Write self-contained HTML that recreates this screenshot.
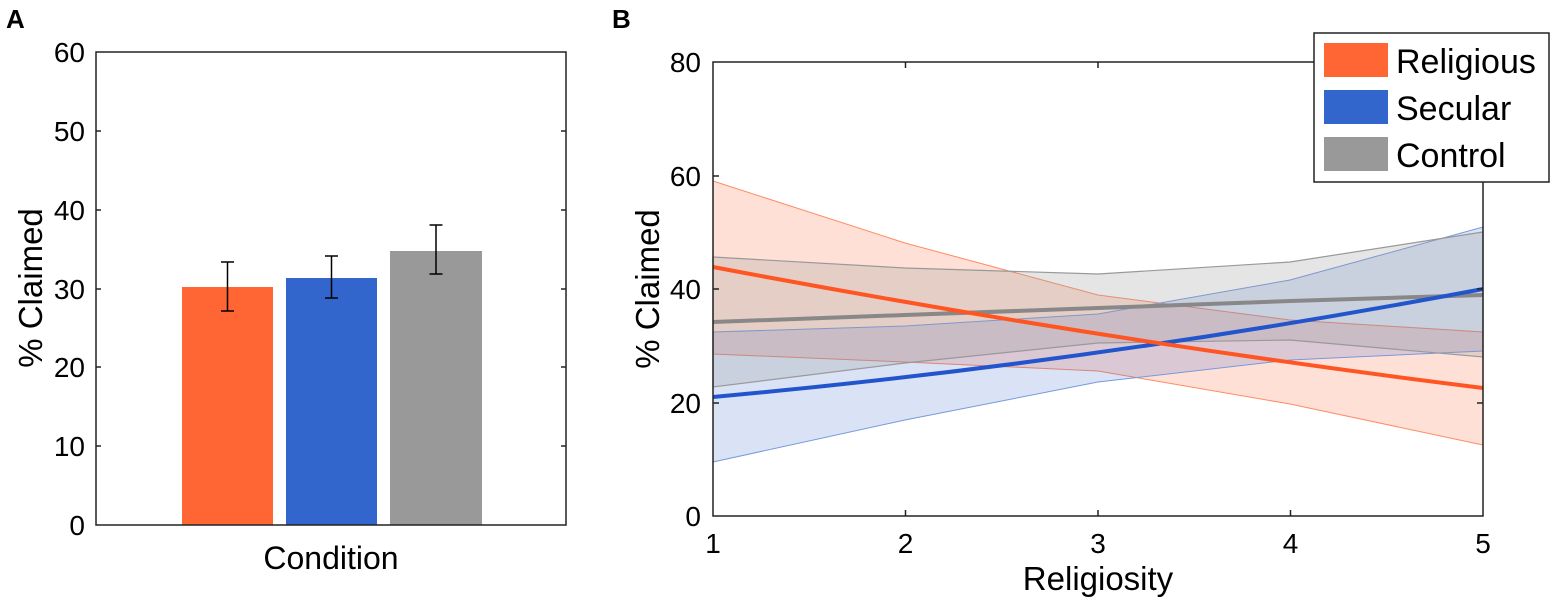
<!DOCTYPE html>
<html><head><style>body{margin:0;background:#fff}svg{display:block;font-family:"Liberation Sans",Arial,sans-serif}</style></head>
<body>
<svg width="1554" height="603" viewBox="0 0 1554 603">
<text x="6" y="28" font-size="26" font-weight="bold">A</text>
<text x="612" y="28" font-size="26" font-weight="bold">B</text>
<!-- Panel A -->
<g>
<rect x="182" y="287" width="91" height="238" fill="#ff6633"/>
<rect x="286" y="278" width="91" height="247" fill="#3366cc"/>
<rect x="390" y="251" width="92" height="274" fill="#999999"/>
<g stroke="#000" stroke-width="1.5">
<line x1="227.5" y1="311" x2="227.5" y2="262"/><line x1="221" y1="311" x2="234" y2="311"/><line x1="221" y1="262" x2="234" y2="262"/>
<line x1="331.5" y1="298" x2="331.5" y2="256"/><line x1="325" y1="298" x2="338" y2="298"/><line x1="325" y1="256" x2="338" y2="256"/>
<line x1="436" y1="274" x2="436" y2="225"/><line x1="429.5" y1="274" x2="442.5" y2="274"/><line x1="429.5" y1="225" x2="442.5" y2="225"/>
</g>
<rect x="96" y="52" width="470" height="473" fill="none" stroke="#222" stroke-width="1.5"/>
<g stroke="#222" stroke-width="1.5">
<line x1="96" y1="446" x2="101" y2="446"/><line x1="96" y1="367" x2="101" y2="367"/><line x1="96" y1="289" x2="101" y2="289"/><line x1="96" y1="210" x2="101" y2="210"/><line x1="96" y1="131" x2="101" y2="131"/>
<line x1="566" y1="446" x2="561" y2="446"/><line x1="566" y1="367" x2="561" y2="367"/><line x1="566" y1="289" x2="561" y2="289"/><line x1="566" y1="210" x2="561" y2="210"/><line x1="566" y1="131" x2="561" y2="131"/>
</g>
<g font-size="28" text-anchor="end">
<text x="85" y="535">0</text><text x="85" y="456">10</text><text x="85" y="377">20</text><text x="85" y="299">30</text><text x="85" y="220">40</text><text x="85" y="141">50</text><text x="85" y="62">60</text>
</g>
<text x="331" y="569" font-size="32" text-anchor="middle">Condition</text>
<text transform="translate(42,288) rotate(-90)" font-size="33" text-anchor="middle">% Claimed</text>
</g>
<!-- Panel B -->
<g>
<polygon points="713,181 905,243 1098,295 1290,320 1483,332 1483,445 1290,404 1098,371 905,362 713,354" fill="#ff6633" fill-opacity="0.2" stroke="#ff8c66" stroke-width="1"/>
<polygon points="713,332 905,326 1098,314 1290,280 1483,227 1483,351 1290,360 1098,382 905,420 713,462" fill="#3366cc" fill-opacity="0.18" stroke="#7799dd" stroke-width="1"/>
<polygon points="713,257 905,268 1098,274 1290,262 1483,232 1483,357 1290,340 1098,343 905,363 713,387" fill="#999" fill-opacity="0.25" stroke="#999" stroke-width="1.2"/>
<polyline points="713,322 905,315 1098,308 1290,301 1483,295" fill="none" stroke="#888" stroke-width="4"/>
<path d="M713,397 Q1098,362 1483,289" fill="none" stroke="#2255cc" stroke-width="4"/>
<path d="M713,267 Q1098,340 1483,388" fill="none" stroke="#ff5522" stroke-width="4"/>
<rect x="713" y="62" width="770" height="454" fill="none" stroke="#222" stroke-width="1.5"/>
<g stroke="#222" stroke-width="1.5">
<line x1="905.5" y1="516" x2="905.5" y2="510"/><line x1="1098" y1="516" x2="1098" y2="510"/><line x1="1290.5" y1="516" x2="1290.5" y2="510"/>
<line x1="905.5" y1="62" x2="905.5" y2="68"/><line x1="1098" y1="62" x2="1098" y2="68"/>
<line x1="713" y1="403" x2="719" y2="403"/><line x1="713" y1="289" x2="719" y2="289"/><line x1="713" y1="176" x2="719" y2="176"/>
<line x1="1483" y1="403" x2="1477" y2="403"/><line x1="1483" y1="289" x2="1477" y2="289"/>
</g>
<g font-size="28" text-anchor="end">
<text x="701" y="526">0</text><text x="701" y="413">20</text><text x="701" y="299">40</text><text x="701" y="186">60</text><text x="701" y="72">80</text>
</g>
<g font-size="28" text-anchor="middle">
<text x="713" y="553">1</text><text x="905.5" y="553">2</text><text x="1098" y="553">3</text><text x="1290.5" y="553">4</text><text x="1483" y="553">5</text>
</g>
<text x="1098" y="590" font-size="33" text-anchor="middle">Religiosity</text>
<text transform="translate(659,289) rotate(-90)" font-size="33" text-anchor="middle">% Claimed</text>
<rect x="1314" y="33" width="235" height="149" fill="#fff" stroke="#222" stroke-width="1.5"/>
<rect x="1324" y="43" width="64" height="34" fill="#ff6633"/>
<rect x="1324" y="90" width="64" height="34" fill="#3366cc"/>
<rect x="1324" y="137" width="64" height="34" fill="#999"/>
<g font-size="34"><text x="1396" y="73">Religious</text><text x="1396" y="120">Secular</text><text x="1396" y="167">Control</text></g>
</g>
</svg>
</body></html>
